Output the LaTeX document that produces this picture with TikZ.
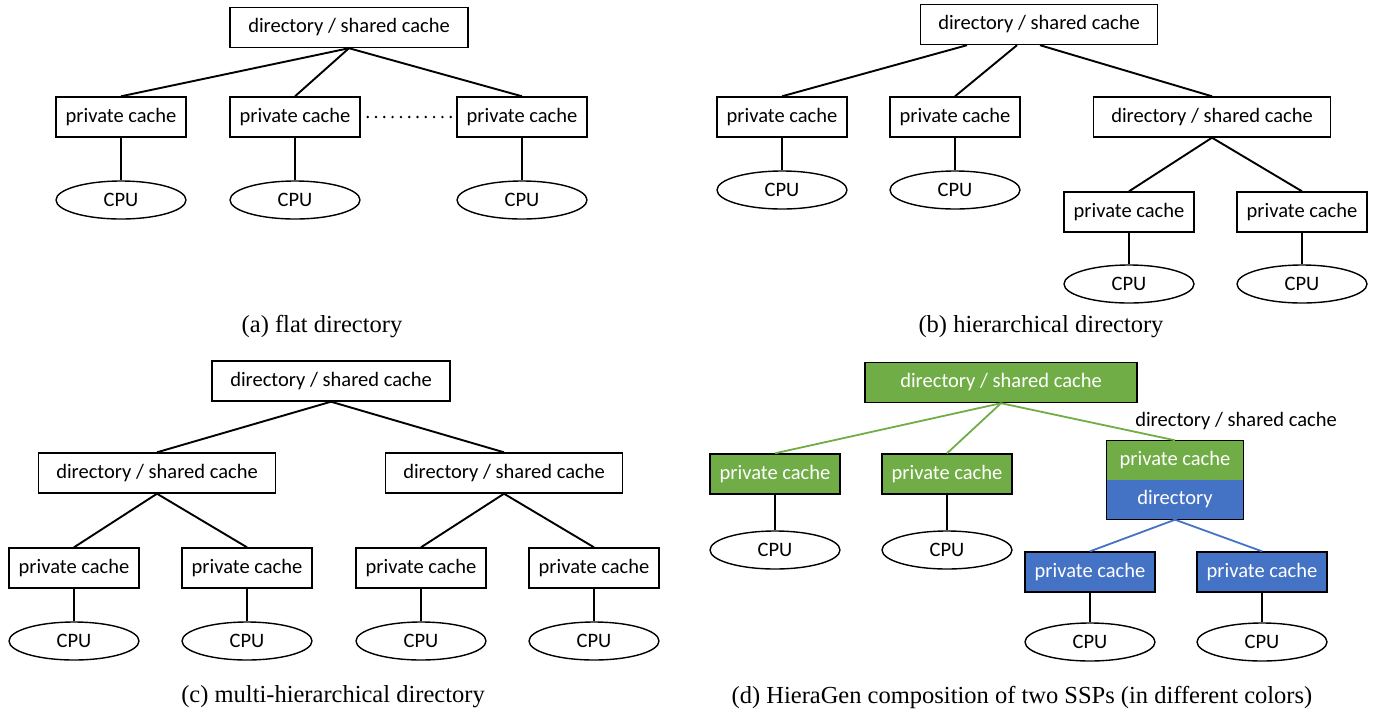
\documentclass[tikz,border=0pt]{standalone}
\usepackage{fontspec}
\setmainfont{Liberation Serif}
\newfontfamily\boxfont{Carlito}
\usetikzlibrary{shapes.geometric}
\definecolor{offgreen}{HTML}{70AD47}
\definecolor{offblue}{HTML}{4472C4}
\tikzset{
  box/.style={draw, line width=1.4pt, rectangle, inner sep=0pt, minimum height=40pt, font=\boxfont\fontsize{20.5}{23}\selectfont},
  pbox/.style={box, minimum width=130pt},
  dbox/.style={box, minimum width=237pt},
  cpu/.style={draw, line width=1.4pt, ellipse, inner sep=0pt, minimum width=130pt, minimum height=38pt, font=\boxfont\fontsize{20.5}{23}\selectfont},
  link/.style={line width=1.9pt},
  gbox/.style={fill=offgreen, text=white},
  bbox/.style={fill=offblue, text=white},
  glink/.style={line width=1.8pt, draw=offgreen},
  blink/.style={line width=1.8pt, draw=offblue},
  caption/.style={font=\fontsize{24.5}{27}\selectfont, inner sep=0pt},
}
\begin{document}
\begin{tikzpicture}[x=1pt,y=-1pt]
\useasboundingbox (0,0) rectangle (1382,713);

% ---------- (a) ----------
\node[dbox, minimum width=238pt] (atop) at (349,27.5) {directory / shared cache};
\node[pbox] (a1) at (121,117) {private cache};
\node[pbox] (a2) at (295,117) {private cache};
\node[pbox] (a3) at (522,117) {private cache};
\node[cpu] (ac1) at (121,200) {CPU};
\node[cpu] (ac2) at (295,200) {CPU};
\node[cpu] (ac3) at (522,200) {CPU};
\draw[link] (atop.south) -- (a1.north);
\draw[link] (atop.south) -- (a2.north);
\draw[link] (atop.south) -- (a3.north);
\draw[link] (a1.south) -- (ac1.north);
\draw[link] (a2.south) -- (ac2.north);
\draw[link] (a3.south) -- (ac3.north);
\draw[line width=2.7pt, line cap=round, dash pattern=on 0pt off 8.3pt, shorten <=7pt, shorten >=5pt] (a2.east) -- (a3.west);
\node[caption] (capa) at (322,327) {(a) flat directory};

% ---------- (b) ----------
\node[dbox] (btop) at (1039,24.5) {directory / shared cache};
\node[pbox] (b1) at (782,117) {private cache};
\node[pbox] (b2) at (955,117) {private cache};
\node[dbox] (b3) at (1212,117) {directory / shared cache};
\node[cpu] (bc1) at (782,190) {CPU};
\node[cpu] (bc2) at (955,190) {CPU};
\node[pbox] (b4) at (1129,212) {private cache};
\node[pbox] (b5) at (1302,212) {private cache};
\node[cpu] (bc4) at (1129,284) {CPU};
\node[cpu] (bc5) at (1302,284) {CPU};
\coordinate (bs1) at ([xshift=-72pt]btop.south);
\coordinate (bs2) at ([xshift=-22pt]btop.south);
\coordinate (bs3) at ([xshift=1pt]btop.south);
\draw[link] (bs1) -- (b1.north);
\draw[link] (bs2) -- (b2.north);
\draw[link] (bs3) -- (b3.north);
\draw[link] (b1.south) -- (bc1.north);
\draw[link] (b2.south) -- (bc2.north);
\draw[link] (b3.south) -- (b4.north);
\draw[link] (b3.south) -- (b5.north);
\draw[link] (b4.south) -- (bc4.north);
\draw[link] (b5.south) -- (bc5.north);
\node[caption] (capb) at (1041,327) {(b) hierarchical directory};

% ---------- (c) ----------
\node[dbox, minimum width=238pt] (ctop) at (331,381) {directory / shared cache};
\node[dbox] (c1) at (157,473) {directory / shared cache};
\node[dbox] (c2) at (504,473) {directory / shared cache};
\node[pbox] (c3) at (74,568) {private cache};
\node[pbox] (c4) at (247,568) {private cache};
\node[pbox] (c5) at (421,568) {private cache};
\node[pbox] (c6) at (594,568) {private cache};
\node[cpu] (cc3) at (74,641) {CPU};
\node[cpu] (cc4) at (247,641) {CPU};
\node[cpu] (cc5) at (421,641) {CPU};
\node[cpu] (cc6) at (594,641) {CPU};
\draw[link] (ctop.south) -- (c1.north);
\draw[link] (ctop.south) -- (c2.north);
\draw[link] (c1.south) -- (c3.north);
\draw[link] (c1.south) -- (c4.north);
\draw[link] (c2.south) -- (c5.north);
\draw[link] (c2.south) -- (c6.north);
\draw[link] (c3.south) -- (cc3.north);
\draw[link] (c4.south) -- (cc4.north);
\draw[link] (c5.south) -- (cc5.north);
\draw[link] (c6.south) -- (cc6.north);
\node[caption] (capc) at (333,697) {(c) multi-hierarchical directory};

% ---------- (d) ----------
\node[box, gbox, minimum width=272pt] (dtop) at (1001,382.5) {directory / shared cache};
\node[pbox, gbox] (d1) at (775,474) {private cache};
\node[pbox, gbox] (d2) at (947,474) {private cache};
\node[box, gbox, draw=none, minimum width=136pt, minimum height=39pt] (dg) at (1175,460.5) {private cache};
\node[box, bbox, draw=none, minimum width=136pt, minimum height=39pt] (db) at (1175,499.5) {directory};
\draw[line width=1.4pt] (dg.north west) rectangle (db.south east);
\node[font=\boxfont\fontsize{20.5}{23}\selectfont, inner sep=0pt] (dlab) at (1236,421) {directory / shared cache};
\node[pbox, bbox] (d3) at (1090,572) {private cache};
\node[pbox, bbox] (d4) at (1262,572) {private cache};
\node[cpu] (dc1) at (775,550) {CPU};
\node[cpu] (dc2) at (947,550) {CPU};
\node[cpu] (dc3) at (1090,642) {CPU};
\node[cpu] (dc4) at (1262,642) {CPU};
\draw[glink] (dtop.south) -- (d1.north);
\draw[glink] (dtop.south) -- (d2.north);
\draw[glink] (dtop.south) -- (dg.north);
\draw[blink] (db.south) -- (d3.north);
\draw[blink] (db.south) -- (d4.north);
\draw[link] (d1.south) -- (dc1.north);
\draw[link] (d2.south) -- (dc2.north);
\draw[link] (d3.south) -- (dc3.north);
\draw[link] (d4.south) -- (dc4.north);
\node[caption] (capd) at (1022,697) {(d) HieraGen composition of two SSPs (in different colors)};
\end{tikzpicture}
\end{document}
